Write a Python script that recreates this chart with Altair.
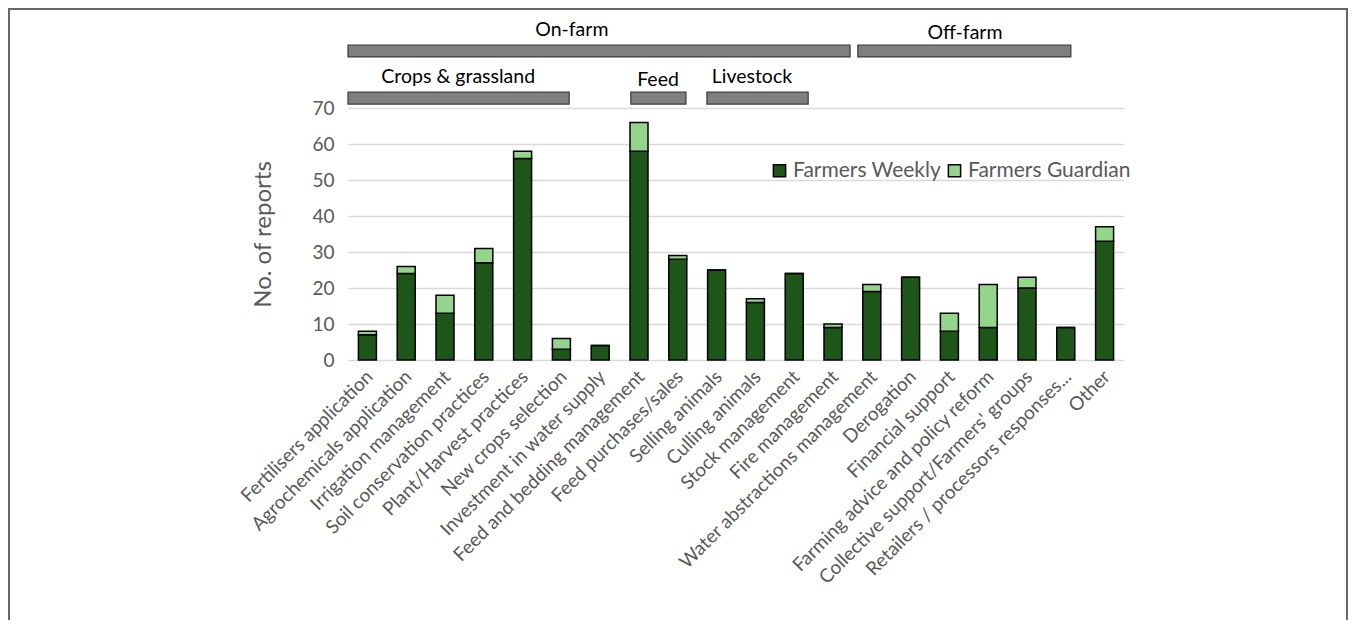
import altair as alt
import pandas as pd

categories = [
    "Fertilisers application", "Agrochemicals application", "Irrigation management",
    "Soil conservation practices", "Plant/Harvest practices", "New crops selection",
    "Investment in water supply", "Feed and bedding management", "Feed purchases/sales",
    "Selling animals", "Culling animals", "Stock management", "Fire management",
    "Water abstractions management", "Derogation", "Financial support",
    "Farming advice and policy reform", "Collective support/Farmers' groups",
    "Retailers / processors responses...", "Other",
]
weekly = [7, 24, 13, 27, 56, 3, 4, 58, 28, 25, 16, 24, 9, 19, 23, 8, 9, 20, 9, 33]
guardian = [1, 2, 5, 4, 2, 3, 0, 8, 1, 0, 1, 0, 1, 2, 0, 5, 12, 3, 0, 4]
series = ["Farmers Weekly", "Farmers Guardian"]
colors = ["#1e561a", "#94d58c"]
y_ticks = [0, 10, 20, 30, 40, 50, 60, 70]

# group annotation bars (in category-index units and y-value units)
group_names = ["On-farm", "Off-farm", "Crops & grassland", "Feed", "Livestock"]
group_x0 = [0.0, 13.14, 0.0, 7.29, 9.25]
group_x1 = [12.94, 18.63, 5.70, 8.71, 11.86]
group_y0 = [84.2, 84.2, 71.1, 71.1, 71.1]
group_y1 = [87.5, 87.5, 74.4, 74.4, 74.4]
label_x = [5.77, 15.9, 2.84, 7.99, 10.41]
label_y = [91.6, 90.8, 78.6, 77.8, 78.6]

rows = []
for i, c in enumerate(categories):
    rows.append({"category": c, "series": series[0], "value": weekly[i], "ord": 0})
    rows.append({"category": c, "series": series[1], "value": guardian[i], "ord": 1})
df = pd.DataFrame(rows)

gdf = pd.DataFrame({"name": group_names, "x0": group_x0, "x1": group_x1,
                    "y0": group_y0, "y1": group_y1, "lx": label_x, "ly": label_y})

FONT = "Lato"
GREY = "#595959"

yscale = alt.Scale(domain=[0, 70], nice=False)
yaxis = alt.Axis(values=y_ticks, grid=True, labelOverlap=False, tickCount=8,
                 gridColor="#d9d9d9", gridWidth=1.5, domain=False, ticks=False,
                 labelFontSize=19, labelColor=GREY, labelFont=FONT,
                 labelPadding=14, titleFontSize=24, titleColor=GREY,
                 titleFont=FONT, titleFontWeight="normal", titlePadding=36)

bars = alt.Chart(df).mark_bar(size=18, stroke="black", strokeWidth=1.5).encode(
    x=alt.X("category:N", sort=categories, title=None,
            scale=alt.Scale(paddingInner=0, paddingOuter=0),
            axis=alt.Axis(labelAngle=-45, labelFontSize=19, labelColor=GREY,
                          labelFont=FONT, ticks=False, domain=False, grid=False,
                          labelPadding=7, labelOffset=-4, labelLimit=500,
                          labelOverlap=False)),
    y=alt.Y("value:Q", stack="zero", scale=yscale, title="No. of reports", axis=yaxis),
    color=alt.Color("series:N", sort=series,
                    scale=alt.Scale(domain=series, range=colors),
                    legend=alt.Legend(title=None, orient="none", direction="horizontal",
                                      legendX=421, legendY=52, labelFontSize=21,
                                      labelColor=GREY, labelFont=FONT, symbolType="square",
                                      symbolSize=150, symbolStrokeColor="black",
                                      symbolStrokeWidth=1.5, columnPadding=2,
                                      labelOffset=3, padding=0, labelLimit=400)),
    order=alt.Order("ord:Q"),
)

xq = alt.Scale(domain=[0, 20], nice=False, zero=False)

grp_rects = alt.Chart(gdf).mark_rect(color="#808080", stroke="#3a3a3a", strokeWidth=1.2).encode(
    x=alt.X("x0:Q", scale=xq, axis=None),
    x2="x1:Q",
    y=alt.Y("y0:Q", scale=yscale, title="No. of reports", axis=yaxis),
    y2="y1:Q",
)
grp_text = alt.Chart(gdf).mark_text(fontSize=19.5, font=FONT, color="black").encode(
    x=alt.X("lx:Q", scale=xq, axis=None),
    y=alt.Y("ly:Q", scale=yscale, title="No. of reports", axis=yaxis),
    text="name:N",
)

frame = alt.Chart(pd.DataFrame({"k": [0]})).mark_rect(
    fill=None, stroke="#666666", strokeWidth=2).encode(
    x=alt.value(-339), x2=alt.value(999), y=alt.value(-99), y2=alt.value(560),
)

chart = alt.layer(bars, grp_rects, grp_text, frame).resolve_scale(
    x="independent", y="shared"
).properties(
    width=776, height=252,
    autosize=alt.AutoSizeParams(type="none"),
    padding={"left": 340, "top": 100, "right": 224, "bottom": 260},
).configure_view(stroke=None)

chart.save("out.html", embed_options={"renderer": "svg", "actions": False})
